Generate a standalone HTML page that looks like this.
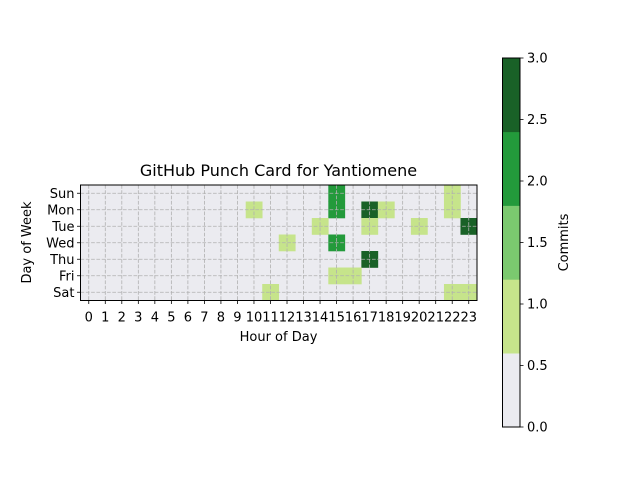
<!DOCTYPE html>
<html><head><meta charset="utf-8"><style>
html,body{margin:0;padding:0;background:#fff;}
svg{display:block;font-family:"DejaVu Sans","Liberation Sans",sans-serif;}
</style></head><body>
<svg id="chart" width="640" height="480">
<rect width="640" height="480" fill="#fff"/>
<g id="cells"></g>
<g id="grid"></g>
<rect x="80.5" y="185" width="396.5" height="115.5" fill="none" stroke="#000" stroke-width="1"/>
<g id="axes"></g>
<text x="278.5" y="176" font-size="16" text-anchor="middle">GitHub Punch Card for Yantiomene</text>
<text x="278.5" y="341" font-size="13" text-anchor="middle">Hour of Day</text>
<text transform="translate(31,242.5) rotate(-90)" font-size="13" text-anchor="middle">Day of Week</text>
<g id="cbar"></g>
<text transform="translate(568,242.5) rotate(-90)" font-size="13" text-anchor="middle">Commits</text>
</svg>
<script>
const days = ["Sun","Mon","Tue","Wed","Thu","Fri","Sat"];
const hours = [0,1,2,3,4,5,6,7,8,9,10,11,12,13,14,15,16,17,18,19,20,21,22,23];
const cellDay = [0,0,1,1,1,1,1,2,2,2,2,3,3,4,5,5,6,6,6];
const cellHour = [15,22,10,15,17,18,22,14,17,20,23,12,15,17,15,16,11,22,23];
const cellCommits = [2,1,1,2,3,1,1,1,1,1,3,1,2,3,1,1,1,1,1];
const cbTicks = [0,0.5,1,1.5,2,2.5,3];
const cbBounds = [0,0.6,1.2,1.8,2.4,3];
const cbColors = ["#ebebf0","#c6e48b","#7bc96f","#239a3b","#196127"];
const NS="http://www.w3.org/2000/svg";
const X0=80.5,X1=477,Y0=185,Y1=300.5;
const cw=(X1-X0)/hours.length, ch=(Y1-Y0)/days.length;
const xPos=h=>X0+h*cw, yPos=d=>Y0+d*ch;
const vmax=3;
function color(v){for(let i=0;i<cbColors.length;i++){if(v<=cbBounds[i+1])return cbColors[i];}return cbColors[cbColors.length-1];}
function mk(tag,attrs,parent){const e=document.createElementNS(NS,tag);for(const k in attrs)e.setAttribute(k,attrs[k]);parent.appendChild(e);return e;}
const cells=document.getElementById('cells');
mk('rect',{x:X0,y:Y0,width:X1-X0,height:Y1-Y0,fill:cbColors[0]},cells);
for(let i=0;i<cellCommits.length;i++){
 const r=mk('rect',{x:xPos(cellHour[i]),y:yPos(cellDay[i]),width:cw+0.3,height:ch+0.3,fill:color(cellCommits[i])},cells);
 
 
}
const grid=document.getElementById('grid'), axes=document.getElementById('axes');
hours.forEach((h,i)=>{
 const x=xPos(i)+cw/2;
 mk('line',{x1:x,x2:x,y1:Y0,y2:Y1,stroke:'#b0b0b0','stroke-dasharray':'3.7,1.6','stroke-width':0.8},grid);
 mk('line',{x1:x,x2:x,y1:Y1,y2:Y1+3.5,stroke:'#000','stroke-width':0.8},axes);
 const t=mk('text',{x:x,y:Y1+21,'font-size':13,'text-anchor':'middle'},axes);t.textContent=h;
 
 
});
days.forEach((d,i)=>{
 const y=yPos(i)+ch/2;
 mk('line',{x1:X0,x2:X1,y1:y,y2:y,stroke:'#b0b0b0','stroke-dasharray':'3.7,1.6','stroke-width':0.8},grid);
 mk('line',{x1:X0-3.5,x2:X0,y1:y,y2:y,stroke:'#000','stroke-width':0.8},axes);
 const t=mk('text',{x:X0-6,y:y+4.5,'font-size':13,'text-anchor':'end'},axes);t.textContent=d;
 
 
});
const cb=document.getElementById('cbar');
const CX0=502.5,CX1=520,CY0=58,CY1=427;
const cy=v=>CY1-(v/vmax)*(CY1-CY0);
for(let i=0;i<cbColors.length;i++){
 const r=mk('rect',{x:CX0,y:cy(cbBounds[i+1]),width:CX1-CX0,height:cy(cbBounds[i])-cy(cbBounds[i+1])+0.3,fill:cbColors[i]},cb);
 
 
}
mk('rect',{x:CX0,y:CY0,width:CX1-CX0,height:CY1-CY0,fill:'none',stroke:'#000','stroke-width':1},cb);
cbTicks.forEach(v=>{
 const y=cy(v);
 mk('line',{x1:CX1,x2:CX1+3.5,y1:y,y2:y,stroke:'#000','stroke-width':0.8},cb);
 const t=mk('text',{x:CX1+7,y:y+4.5,'font-size':13},cb);t.textContent=v.toFixed(1);
 
 
});
</script>
</body></html>
